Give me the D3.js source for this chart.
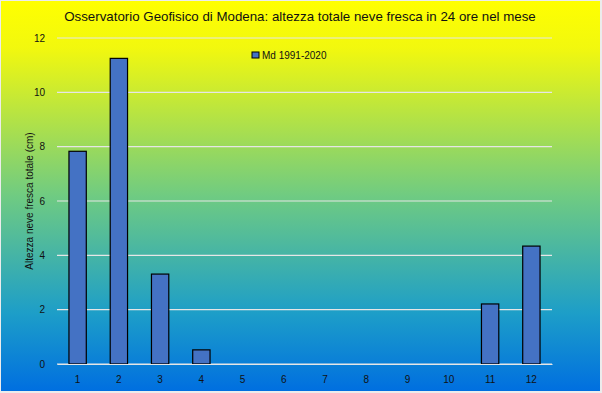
<!DOCTYPE html>
<html><head><meta charset="utf-8">
<script src="https://cdn.jsdelivr.net/npm/d3@7"></script>
<style>html,body{margin:0;padding:0;background:#ececec;}svg{display:block;}</style>
</head><body>
<script>
const categories = ["1","2","3","4","5","6","7","8","9","10","11","12"];
const values = [7.83, 11.25, 3.31, 0.52, 0, 0, 0, 0, 0, 0, 2.21, 4.34];
const yTicks = [0, 2, 4, 6, 8, 10, 12];
const seriesName = "Md 1991-2020";
const titleText = "Osservatorio Geofisico di Modena: altezza totale neve fresca in 24 ore nel mese";
const yTitle = "Altezza neve fresca totale (cm)";

const W = 602, H = 393;
const svg = d3.select("body").append("svg").attr("width", W).attr("height", H);
const defs = svg.append("defs");
const g = defs.append("linearGradient").attr("id","bg").attr("x1",0).attr("y1",0).attr("x2",0).attr("y2",1);
[[0,"#ffff00"],[0.12,"#f2f80e"],[0.5,"#6fcb82"],[0.8,"#1d9ec8"],[1,"#006fe0"]].forEach(([o,c])=>g.append("stop").attr("offset",o).attr("stop-color",c));
svg.append("rect").attr("x",1).attr("y",1).attr("width",599).attr("height",390).attr("fill","url(#bg)");

const font = "'Liberation Sans', Arial, sans-serif";
const x = d3.scaleBand().domain(categories).range([57, 552]).paddingInner(0.58).paddingOuter(0.29);
const y = d3.scaleLinear().domain([0, 12]).range([364, 38]);

// gridlines
svg.append("g").selectAll("line").data(yTicks).join("line")
  .attr("x1",57).attr("x2",552).attr("y1",d=>y(d)).attr("y2",d=>y(d))
  .attr("stroke","#e6e6e6").attr("stroke-width",1.2);

// y axis labels
const yAxis = svg.append("g").attr("transform","translate(57,0)")
  .call(d3.axisLeft(y).tickValues(yTicks).tickSize(0).tickPadding(12));
yAxis.select(".domain").remove();
yAxis.selectAll("text").attr("font-family",font).attr("font-size",10).attr("fill","#111");

// bars
const barData = values.map((v,i)=>({c:categories[i],v})).filter(d=>d.v>0);
svg.append("g").selectAll("rect").data(barData).join("rect")
  .attr("x",d=>x(d.c)).attr("width",x.bandwidth())
  .attr("y",d=>y(d.v)).attr("height",d=>y(0)-y(d.v))
  .attr("fill","#4472c4").attr("stroke","#000").attr("stroke-width",1.2);

// x axis
const xAxis = svg.append("g").attr("transform","translate(0,364)")
  .call(d3.axisBottom(x).tickSize(0).tickPadding(12));
xAxis.select(".domain").attr("stroke","#e6e6e6").attr("stroke-width",1.2);
xAxis.selectAll("text").attr("font-family",font).attr("font-size",10).attr("fill","#111");

// title
svg.append("text").attr("x",300).attr("y",21).attr("text-anchor","middle")
  .attr("font-family",font).attr("font-size",13.3).attr("fill","#111").text(titleText);

// y title
svg.append("text").attr("transform","translate(33,201) rotate(-90)").attr("text-anchor","middle")
  .attr("font-family",font).attr("font-size",10).attr("fill","#111").text(yTitle);

// legend
svg.append("rect").attr("x",252).attr("y",52).attr("width",7).attr("height",6)
  .attr("fill","#4472c4").attr("stroke","#000").attr("stroke-width",1);
svg.append("text").attr("x",262).attr("y",59).attr("font-family",font).attr("font-size",10)
  .attr("fill","#111").text(seriesName);
</script>
</body></html>
